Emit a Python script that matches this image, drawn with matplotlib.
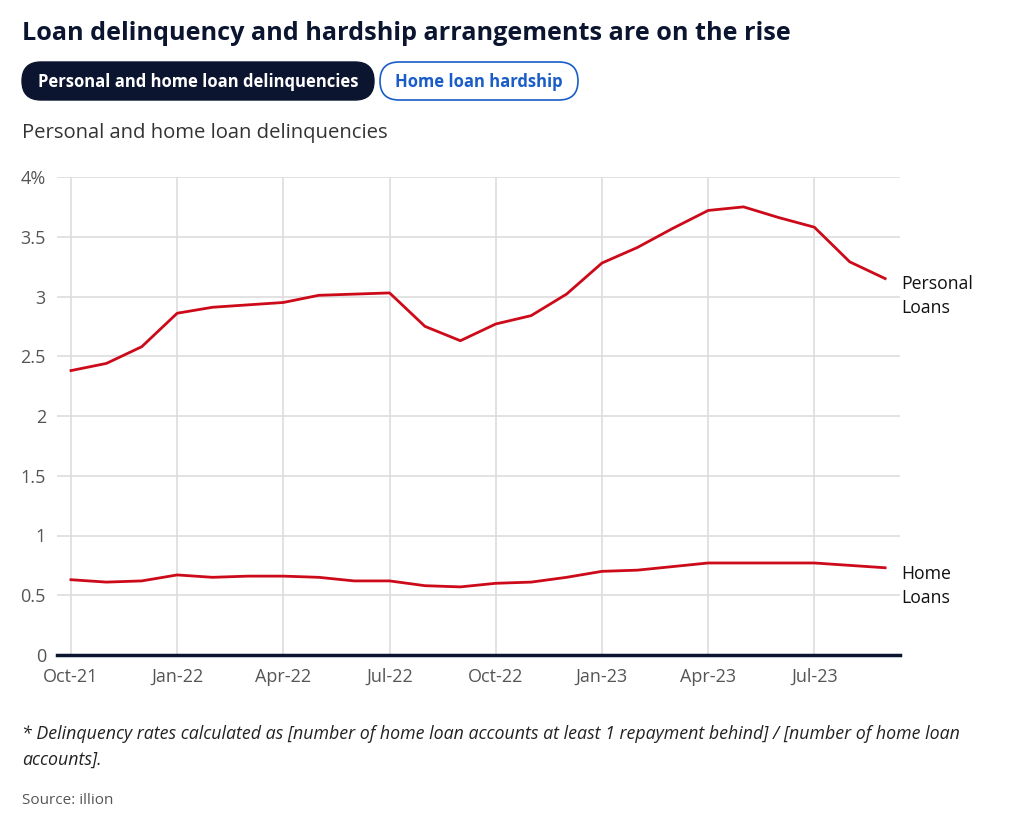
import matplotlib
matplotlib.use("Agg")
import matplotlib.pyplot as plt
from matplotlib.patches import FancyBboxPatch
import numpy as np

plt.rcParams['font.family'] = ['Open Sans', 'DejaVu Sans']

months = ["Oct-21", "Nov-21", "Dec-21", "Jan-22", "Feb-22", "Mar-22", "Apr-22", "May-22",
          "Jun-22", "Jul-22", "Aug-22", "Sep-22", "Oct-22", "Nov-22", "Dec-22", "Jan-23",
          "Feb-23", "Mar-23", "Apr-23", "May-23", "Jun-23", "Jul-23", "Aug-23", "Sep-23"]
personal = [2.38, 2.44, 2.58, 2.86, 2.91, 2.93, 2.95, 3.01, 3.02, 3.03, 2.75, 2.63,
            2.77, 2.84, 3.02, 3.28, 3.41, 3.57, 3.72, 3.75, 3.66, 3.58, 3.29, 3.15]
home = [0.63, 0.61, 0.62, 0.67, 0.65, 0.66, 0.66, 0.65, 0.62, 0.62, 0.58, 0.57,
        0.60, 0.61, 0.65, 0.70, 0.71, 0.74, 0.77, 0.77, 0.77, 0.77, 0.75, 0.73]
yticks = [0, 0.5, 1, 1.5, 2, 2.5, 3, 3.5, 4]
ytick_labels = ["0", "0.5", "1", "1.5", "2", "2.5", "3", "3.5", "4%"]

W, H = 1017, 814
fig = plt.figure(figsize=(W / 100, H / 100), dpi=100)

def fx(px):
    return px / W

def fy(py):
    return 1 - py / H

# background overlay in pixel coordinates for the pills
bg = fig.add_axes([0, 0, 1, 1], zorder=0)
bg.set_xlim(0, W)
bg.set_ylim(H, 0)
bg.axis("off")
bg.add_patch(FancyBboxPatch((22, 62), 352, 38, boxstyle="round,pad=0,rounding_size=19",
                            facecolor="#0b1530", edgecolor="#0b1530", lw=1))
bg.add_patch(FancyBboxPatch((380, 62), 198, 38, boxstyle="round,pad=0,rounding_size=19",
                            facecolor="white", edgecolor="#1a5dc8", lw=1.2))

ax = fig.add_axes([fx(57), fy(655), fx(900) - fx(57), fy(177) - fy(655)], zorder=1)
ax.patch.set_alpha(0)
x = np.arange(len(months))
red = "#cc0a1a"
ax.plot(x, personal, color=red, lw=2.0, solid_joinstyle='round', zorder=3)
ax.plot(x, home, color=red, lw=2.0, solid_joinstyle='round', zorder=3)

ax.set_xlim(-0.395, 23.42)
ax.set_ylim(0, 4)
ax.set_yticks(yticks)
ax.set_yticklabels(ytick_labels)
ax.set_xticks(x[::3])
ax.set_xticklabels(months[::3])
ax.grid(True, color="#dddddd", lw=1.2)
ax.set_axisbelow(True)
for s in ["top", "right", "left"]:
    ax.spines[s].set_visible(False)
ax.spines["bottom"].set_color("#0b1530")
ax.spines["bottom"].set_linewidth(2.5)
ax.spines["bottom"].set_zorder(4)
ax.tick_params(axis="both", length=0, labelsize=13, labelcolor="#555555")
ax.tick_params(axis="y", pad=8)
ax.tick_params(axis="x", pad=9)

fig.text(fx(901), fy(296), "Personal\nLoans", fontsize=12.7, color="#111111",
         va="center", ha="left", linespacing=1.45)
fig.text(fx(901), fy(586), "Home\nLoans", fontsize=12.7, color="#111111",
         va="center", ha="left", linespacing=1.45)

fig.text(fx(22), fy(33), "Loan delinquency and hardship arrangements are on the rise",
         fontsize=18.2, fontweight="bold", color="#0b1530", va="center", ha="left")

fig.text(fx(198), fy(82), "Personal and home loan delinquencies", fontsize=12,
         fontweight="bold", color="white", va="center", ha="center")
fig.text(fx(479), fy(82), "Home loan hardship", fontsize=12,
         fontweight="bold", color="#1a5dc8", va="center", ha="center")

fig.text(fx(22), fy(133), "Personal and home loan delinquencies", fontsize=14.6,
         color="#333333", va="center", ha="left")

fig.text(fx(22), fy(747),
         "* Delinquency rates calculated as [number of home loan accounts at least 1 repayment behind] / [number of home loan\naccounts].",
         fontsize=12.8, style="italic", color="#222222", va="center", ha="left", linespacing=1.6)
fig.text(fx(22), fy(800), "Source: illion", fontsize=11, color="#555555",
         va="center", ha="left")

fig.savefig("out.png", dpi=100, facecolor="white")
